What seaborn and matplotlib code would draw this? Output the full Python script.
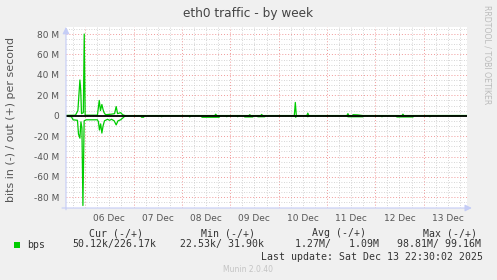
import numpy as np
import pandas as pd
import seaborn as sns
import matplotlib
matplotlib.use("Agg")
import matplotlib.pyplot as plt
import matplotlib.dates as mdates
from matplotlib.ticker import MultipleLocator, FuncFormatter
from matplotlib.patches import Rectangle

# ---------------- data ----------------
start = pd.Timestamp("2025-12-05 14:30")
end_hours = 199.0

out_hours = [0, 4.7, 5.9, 6.9, 7.3, 7.7, 8.6, 9.05, 9.5, 12, 15.6, 16.5, 17.1, 17.8, 18.4, 18.9, 19.6,
             22.6, 24.1, 24.9, 25.6, 27.1, 28.1, 29.3,
             73.8, 74.3, 74.8, 90.7, 91.2, 91.7, 96.6, 97.1, 97.6,
             113.3, 113.8, 114.3, 119.5, 120.0, 120.5, 139.4, 139.9, 140.4,
             142.0, 142.5, 144.8, 147.3, 166.7, 167.2, 167.7, 199.0]
out_mbps = [0.3, 0.5, 5, 35, 25, 2, 3, 80, 0.5, 0.5, 0.5, 15, 5, 11, 6, 3, 1,
            1.5, 2, 9, 2, 3, 1, 0.15,
            0.15, 1.5, 0.15, 0.15, 1.0, 0.15, 0.15, 1.2, 0.15,
            0.15, 13, 0.15, 0.15, 2.5, 0.15, 0.15, 2, 0.15,
            0.15, 1, 0.8, 0.15, 0.15, 1.5, 0.15, 0.2]

in_hours = [0, 2.7, 3.5, 5.7, 6.2, 6.9, 7.4, 7.9, 8.4, 9.0, 10, 15.6, 16.1, 16.6, 17.2, 17.8, 18.4, 19.1,
            20.6, 21.6, 22.6, 23.9, 24.9, 25.8, 27.1, 28.6, 29.3,
            37.0, 37.5, 38.5, 39.0, 47.0, 47.5, 48.0, 61.0, 61.4, 62.0,
            67.0, 67.5, 76.0, 76.5, 79.3, 79.8, 80.3, 84.7, 85.2, 85.7,
            88.2, 88.7, 92.7, 93.2, 94.7, 95.2, 98.6, 99.1,
            113.5, 114.0, 114.5, 119.5, 120.0, 120.5,
            139.4, 139.9, 147.3, 147.8, 156.3, 156.8, 157.3,
            163.7, 164.2, 172.2, 172.7, 180.1, 180.6, 181.1, 199.0]
in_mbps = [0.5, 1, 4, 4.5, 18, 22, 6, 12, 88, 5, 4, 4, 6, 14, 8, 17, 10, 5,
           3.5, 4.5, 3.5, 5, 9, 5, 4, 1.5, 0.2,
           0.15, 1.5, 1.5, 0.15, 0.15, 1, 0.15, 0.15, 1.2, 0.15,
           0.15, 1.5, 1.5, 0.15, 0.15, 1, 0.15, 0.15, 1, 0.15,
           0.15, 1.2, 1.2, 0.15, 0.15, 1, 1, 0.15,
           0.15, 1.5, 0.15, 0.15, 1, 0.15,
           0.15, 1, 1, 0.15, 0.15, 1, 0.15,
           0.15, 1.2, 1.2, 0.15, 0.15, 1, 0.15, 0.1]

legend_headers = ["Cur (-/+)", "Min (-/+)", "Avg (-/+)", "Max (-/+)"]
legend_values = ["50.12k/226.17k", "22.53k/ 31.90k", "1.27M/   1.09M", "98.81M/ 99.16M"]
last_update = "Last update: Sat Dec 13 22:30:02 2025"

# ---------------- figure ----------------
W, H = 497, 280
fig = plt.figure(figsize=(W / 100, H / 100), dpi=100, facecolor="#F0F0F0")
L, R, T, B = 66, 467, 27, 208
ax = fig.add_axes([L / W, 1 - B / H, (R - L) / W, (B - T) / H])
ax.set_facecolor("white")

df_out = pd.DataFrame({"t": start + pd.to_timedelta(out_hours, unit="h"),
                       "v": np.array(out_mbps) * 1e6})
df_in = pd.DataFrame({"t": start + pd.to_timedelta(in_hours, unit="h"),
                      "v": -np.array(in_mbps) * 1e6})

green = "#00CC00"
sns.lineplot(data=df_in, x="t", y="v", ax=ax, color=green, lw=0.9, zorder=3)
sns.lineplot(data=df_out, x="t", y="v", ax=ax, color=green, lw=0.9, zorder=3)
ax.axhline(0, color="black", lw=1.3, zorder=4)

ax.set_xlim(start, start + pd.Timedelta(hours=end_hours))
ax.set_ylim(-90.4e6, 86.9e6)

# grids
ax.yaxis.set_major_locator(MultipleLocator(20e6))
ax.yaxis.set_minor_locator(MultipleLocator(5e6))
ax.xaxis.set_major_locator(mdates.DayLocator())
ax.xaxis.set_minor_locator(mdates.HourLocator(byhour=[0, 6, 12, 18]))
ax.grid(which="minor", color="#C8C8C8", ls=(0, (1, 2)), lw=0.6, zorder=1)
ax.grid(which="major", color="#F09A9A", ls=(0, (1, 2)), lw=0.7, zorder=2)

def yfmt(v, pos):
    if abs(v) < 1:
        return "0"
    return f"{int(round(v / 1e6))} M"
ax.yaxis.set_major_formatter(FuncFormatter(yfmt))
ax.xaxis.set_major_formatter(FuncFormatter(lambda v, p: ""))
def xfmt(v, pos):
    d = mdates.num2date(v)
    return d.strftime("%d %b") if d.hour == 12 else ""
ax.xaxis.set_minor_formatter(FuncFormatter(xfmt))

ax.tick_params(axis="both", which="both", length=0, labelsize=6.5, labelcolor="#555555")
ax.tick_params(axis="x", which="minor", pad=4)
ax.tick_params(axis="y", pad=5)
ax.set_xlabel("")
ax.set_ylabel("bits in (-) / out (+) per second", fontsize=7.9, color="#555555")
ax.yaxis.set_label_coords((16 - L) / (R - L), (B - 119.5) / (B - T))
for s in ax.spines.values():
    s.set_visible(False)

# axes arrows
axis_col = "#C4CCF6"
ax.annotate("", xy=(0, 1.0), xytext=(0, -0.01), xycoords="axes fraction",
            arrowprops=dict(arrowstyle="-|>,head_length=0.4,head_width=0.2", color=axis_col, lw=0.8,
                            shrinkA=0, shrinkB=0), zorder=5, annotation_clip=False)
ax.annotate("", xy=(1.012, 0), xytext=(-0.01, 0), xycoords="axes fraction",
            arrowprops=dict(arrowstyle="-|>,head_length=0.4,head_width=0.2", color=axis_col, lw=0.8,
                            shrinkA=0, shrinkB=0), zorder=5, annotation_clip=False)

# title & watermark
fig.text(248 / W, 1 - 13 / H, "eth0 traffic - by week", ha="center", va="center",
         fontsize=8.7, color="#444444")
fig.text(487 / W, 1 - 5 / H, "RRDTOOL / TOBI OETIKER", rotation=270, ha="center", va="top",
         fontsize=5.6, color="#BBBBBB")

# legend
mono = "DejaVu Sans Mono"
tc = "#333333"
fig.patches.append(Rectangle((14 / W, 1 - 248 / H), 6 / W, 6 / H, transform=fig.transFigure,
                             facecolor=green, edgecolor="none"))
fig.text(27 / W, 1 - 244.5 / H, "bps", family=mono, fontsize=7.1, color=tc, va="center")
hdr_x = [89, 201, 312, 423]
val_x = [72, 180, 295, 397]
for hx, h in zip(hdr_x, legend_headers):
    fig.text(hx / W, 1 - 233 / H, h, family=mono, fontsize=7.1, color=tc, va="center")
for vx, v in zip(val_x, legend_values):
    fig.text(vx / W, 1 - 244.5 / H, v, family=mono, fontsize=7.1, color=tc, va="center")
fig.text(261 / W, 1 - 257 / H, last_update, family=mono, fontsize=7.1, color=tc, va="center")
fig.text(248 / W, 1 - 269.5 / H, "Munin 2.0.40", ha="center", va="center", fontsize=5.5,
         color="#C4C4C4")

fig.savefig("out.png", dpi=100, facecolor=fig.get_facecolor())
